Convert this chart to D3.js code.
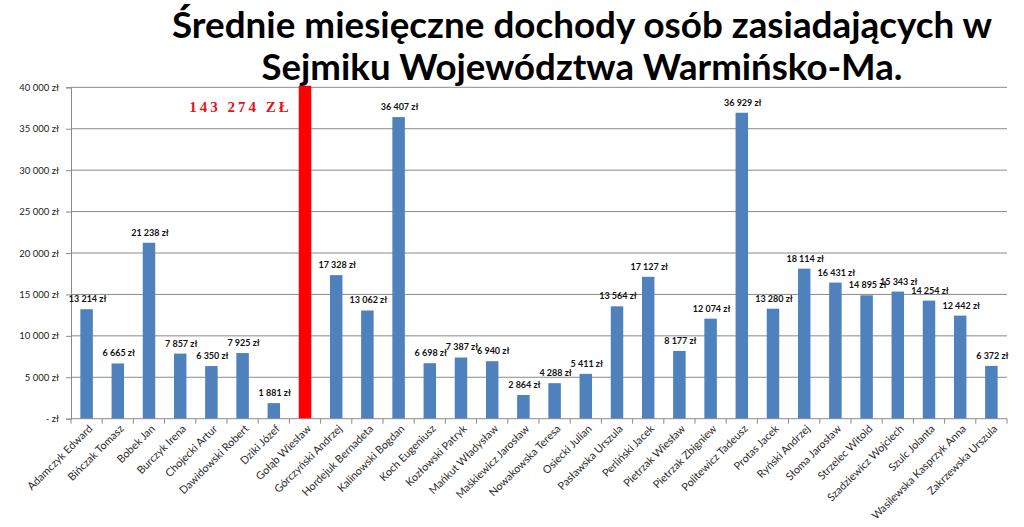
<!DOCTYPE html>
<html>
<head>
<meta charset="utf-8">
<script src="https://cdn.jsdelivr.net/npm/d3@7.9.0/dist/d3.min.js"></script>
<style>
  body { margin: 0; background: #fff; }
  svg { display: block; }
</style>
</head>
<body>
<svg id="chart" width="1024" height="527"></svg>
<script>
// names of the councillors, in chart order
const names = [
  'Adamczyk Edward', 'Bińczak Tomasz', 'Bobek Jan', 'Burczyk Irena', 'Chojecki Artur',
  'Dawidowski Robert', 'Dziki Józef', 'Gołąb Wiesław', 'Górczyński Andrzej', 'Hordejuk Bernadeta',
  'Kalinowski Bogdan', 'Koch Eugeniusz', 'Kozłowski Patryk', 'Mańkut Władysław', 'Maśkiewicz Jarosław',
  'Nowakowska Teresa', 'Osiecki Julian', 'Pasławska Urszula', 'Perliński Jacek', 'Pietrzak Wiesław',
  'Pietrzak Zbigniew', 'Politewicz Tadeusz', 'Protas Jacek', 'Ryński Andrzej', 'Słoma Jarosław',
  'Strzelec Witold', 'Szadziewicz Wojciech', 'Szulc Jolanta', 'Wasilewska Kasprzyk Anna', 'Zakrzewska Urszula'
];

// average monthly income, zł
const incomes = [
  13214, 6665, 21238, 7857, 6350,
  7925, 1881, 143274, 17328, 13062,
  36407, 6698, 7387, 6940, 2864,
  4288, 5411, 13564, 17127, 8177,
  12074, 36929, 13280, 18114, 16431,
  14895, 15343, 14254, 12442, 6372
];

const yTicks = [0, 5000, 10000, 15000, 20000, 25000, 30000, 35000, 40000];
const titleLines = ['Średnie miesięczne dochody osób zasiadających w', 'Sejmiku Województwa Warmińsko-Ma.'];
const outlier = 'Gołąb Wiesław';

const data = names.map((n, i) => ({ name: n, value: incomes[i] }));

const pl = d3.formatLocale({ decimal: ',', thousands: ' ', grouping: [3], currency: ['', ' zł'] });
const fmt = pl.format(',d');

const svg = d3.select('#chart');
const plotLeft = 71, plotRight = 1007, plotTop = 87.3, plotBottom = 418.7;

const x = d3.scaleBand()
  .domain(names)
  .range([plotLeft, plotRight])
  .paddingInner(0.6)
  .paddingOuter(0.3);

const yMax = d3.max(yTicks);
const y = d3.scaleLinear().domain([0, yMax]).range([plotBottom, plotTop]);

// title
svg.selectAll('text.title')
  .data(titleLines)
  .join('text')
  .attr('class', 'title')
  .attr('x', 582)
  .attr('y', (d, i) => 38 + i * 42)
  .attr('text-anchor', 'middle')
  .attr('textLength', (d, i) => i === 0 ? 820 : 641)
  .attr('lengthAdjust', 'spacingAndGlyphs')
  .style('font-family', 'Lato, "Open Sans", sans-serif')
  .style('font-weight', 'bold')
  .style('font-size', '37px')
  .attr('fill', '#000')
  .text(d => d);

// gridlines
svg.append('g')
  .selectAll('line')
  .data(yTicks.filter(t => t > 0))
  .join('line')
  .attr('x1', plotLeft).attr('x2', plotRight)
  .attr('y1', d => y(d)).attr('y2', d => y(d))
  .attr('stroke', '#8a8a8a')
  .attr('stroke-width', 1);

// y axis
const yAxis = d3.axisLeft(y)
  .tickValues(yTicks)
  .tickSize(5)
  .tickPadding(7)
  .tickFormat(d => d === 0 ? '- zł' : fmt(d) + ' zł');

svg.append('g')
  .attr('transform', `translate(${plotLeft},0)`)
  .call(yAxis)
  .call(g => g.select('.domain').attr('stroke', '#8a8a8a'))
  .call(g => g.selectAll('.tick line').attr('stroke', '#8a8a8a'))
  .call(g => g.selectAll('.tick text')
    .style('font-family', 'Lato, "Open Sans", sans-serif')
    .style('font-size', '9.5px')
    .attr('fill', '#222'));

// bars
svg.append('g')
  .selectAll('rect')
  .data(data)
  .join('rect')
  .attr('x', d => x(d.name))
  .attr('width', x.bandwidth())
  .attr('y', d => y(Math.min(d.value, yMax)) - (d.value > yMax ? 1.5 : 0))
  .attr('height', d => plotBottom - y(Math.min(d.value, yMax)) + (d.value > yMax ? 1.5 : 0))
  .attr('fill', d => d.name === outlier ? '#ff0000' : '#4f81bd');

// x axis line + ticks between categories
const step = x.step();
const bounds = names.map(n => x(n) - x.paddingInner() * step / 2);
bounds.push(plotRight);
svg.append('line')
  .attr('x1', plotLeft).attr('x2', plotRight)
  .attr('y1', plotBottom).attr('y2', plotBottom)
  .attr('stroke', '#8a8a8a');
svg.append('g')
  .selectAll('line')
  .data(bounds)
  .join('line')
  .attr('x1', d => d).attr('x2', d => d)
  .attr('y1', plotBottom).attr('y2', plotBottom + 5)
  .attr('stroke', '#8a8a8a');

// x labels
svg.append('g')
  .selectAll('text')
  .data(names)
  .join('text')
  .attr('transform', d => `translate(${x(d) + x.bandwidth() / 2 + 4},${plotBottom + 8}) rotate(-45)`)
  .attr('text-anchor', 'end')
  .attr('dy', '0.35em')
  .style('font-family', 'Lato, "Open Sans", sans-serif')
  .style('font-size', '10.8px')
  .attr('fill', '#2a2a2a')
  .text(d => d);

// value labels
svg.append('g')
  .selectAll('text')
  .data(data.filter(d => d.value <= yMax))
  .join('text')
  .attr('x', d => x(d.name) + x.bandwidth() / 2 + 1)
  .attr('y', d => y(d.value) - 7)
  .attr('text-anchor', 'middle')
  .style('font-family', 'Lato, "Open Sans", sans-serif')
  .style('font-weight', 'bold')
  .style('font-size', '9px')
  .attr('fill', '#111')
  .text(d => fmt(d.value) + ' zł');

// label for the off-scale bar
const big = data.find(d => d.value > yMax);
svg.append('text')
  .attr('x', x(big.name) - 7)
  .attr('y', 112)
  .attr('text-anchor', 'end')
  .style('font-family', '"Liberation Serif", "DejaVu Serif", serif')
  .style('font-weight', 'bold')
  .style('font-size', '15px')
  .style('letter-spacing', '3px')
  .attr('fill', '#e0141e')
  .text(fmt(big.value).replace(/ /g, '  ') + ' ZŁ');
</script>
</body>
</html>
